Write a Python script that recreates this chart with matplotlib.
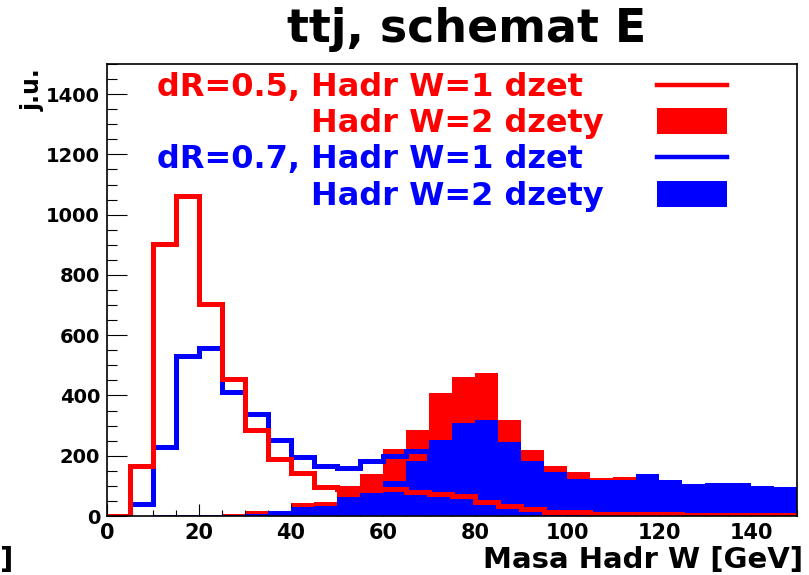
import numpy as np
import matplotlib.pyplot as plt
from matplotlib.lines import Line2D
from matplotlib.patches import Rectangle
from matplotlib.ticker import MultipleLocator

W, H = 809, 575

# 5 GeV bins, 0-150 GeV
edges = np.arange(0, 155, 5)

# dR=0.5, hadronic W reconstructed from 1 jet / 2 jets
dr05_w1 = [0, 167, 903, 1063, 703, 453, 285, 190, 143, 95,
           90, 90, 90, 80, 73, 67, 47, 33, 22, 13,
           12, 8, 8, 6, 5, 4, 3, 4, 3, 3]
dr05_w2 = [0, 0, 0, 0, 3, 5, 15, 14, 43, 47,
           100, 140, 223, 287, 407, 460, 475, 320, 220, 167,
           147, 127, 130, 110, 100, 90, 85, 80, 75, 70]

# dR=0.7
dr07_w1 = [0, 40, 230, 530, 557, 413, 337, 253, 197, 165,
           160, 182, 198, 215, 190, 170, 150, 130, 110, 95,
           85, 75, 65, 60, 55, 50, 45, 40, 38, 35]
dr07_w2 = [0, 1, 2, 2, 3, 4, 7, 18, 30, 33,
           63, 77, 117, 183, 253, 307, 320, 247, 183, 145,
           123, 120, 120, 140, 120, 107, 110, 110, 100, 97]

RED = "#ff0000"
BLUE = "#0000ff"

plt.rcParams["font.family"] = ["DejaVu Sans"]
plt.rcParams["font.weight"] = "bold"


def fx(x):
    return x / W


def fy(y):
    return 1 - y / H


fig = plt.figure(figsize=(W / 100, H / 100), dpi=100)
ax = fig.add_axes([fx(107), fy(516), (797 - 107) / W, (516 - 64) / H])

ax.stairs(dr05_w2, edges, fill=True, color=RED, lw=0, zorder=1)
ax.stairs(dr07_w2, edges, fill=True, color=BLUE, lw=0, zorder=2)
ax.stairs(dr07_w1, edges, color=BLUE, lw=3.6, zorder=3)
ax.stairs(dr05_w1, edges, color=RED, lw=3.6, zorder=4)

ax.set_xlim(0, 150)
ax.set_ylim(0, 1500)

ax.xaxis.set_major_locator(MultipleLocator(20))
ax.xaxis.set_minor_locator(MultipleLocator(5))
ax.yaxis.set_major_locator(MultipleLocator(200))
ax.yaxis.set_minor_locator(MultipleLocator(50))

ax.tick_params(axis="x", which="major", direction="in", length=8.6, width=0.8,
               pad=5, labelsize=15)
ax.tick_params(axis="x", which="minor", direction="in", length=4.3, width=0.8)
ax.tick_params(axis="y", which="major", direction="in", length=14.4, width=0.8,
               pad=5, labelsize=14)
ax.tick_params(axis="y", which="minor", direction="in", length=7.2, width=0.8)
for lab in ax.get_xticklabels() + ax.get_yticklabels():
    lab.set_fontweight("bold")
for s in ax.spines.values():
    s.set_linewidth(1.2)
    s.set_zorder(5)

# titles
fig.text(fx(467), fy(42), "ttj, schemat E", ha="center", va="baseline",
         fontsize=33, fontweight="bold")
fig.text(fx(803), fy(568), "Masa Hadr W [GeV]", ha="right", va="baseline",
         fontsize=21, fontweight="bold")
fig.text(fx(0), fy(568), "]", ha="left", va="baseline",
         fontsize=21, fontweight="bold")
fig.text(fx(33), fy(68), "j.u.", rotation=90, ha="center", va="top",
         fontsize=17, fontweight="bold")

# legend: text on the left, marker on the right
entries = [
    ("dR=0.5, ", "Hadr W=1 dzet", RED, "line", 85),
    ("", "Hadr W=2 dzety", RED, "box", 121),
    ("dR=0.7, ", "Hadr W=1 dzet", BLUE, "line", 157),
    ("", "Hadr W=2 dzety", BLUE, "box", 194),
]
for prefix, label, color, kind, yc in entries:
    base = yc + 11
    if prefix:
        fig.text(fx(311), fy(base), prefix, ha="right", va="baseline",
                 fontsize=23, fontweight="bold", color=color)
    fig.text(fx(311), fy(base), label, ha="left", va="baseline",
             fontsize=23, fontweight="bold", color=color)
    if kind == "line":
        fig.add_artist(Line2D([fx(657), fx(727)], [fy(yc), fy(yc)],
                              color=color, lw=3.2))
    else:
        fig.add_artist(Rectangle((fx(657), fy(yc + 13)), 70 / W, 26 / H,
                                 facecolor=color, edgecolor="none"))

fig.savefig("out.png", dpi=100)
